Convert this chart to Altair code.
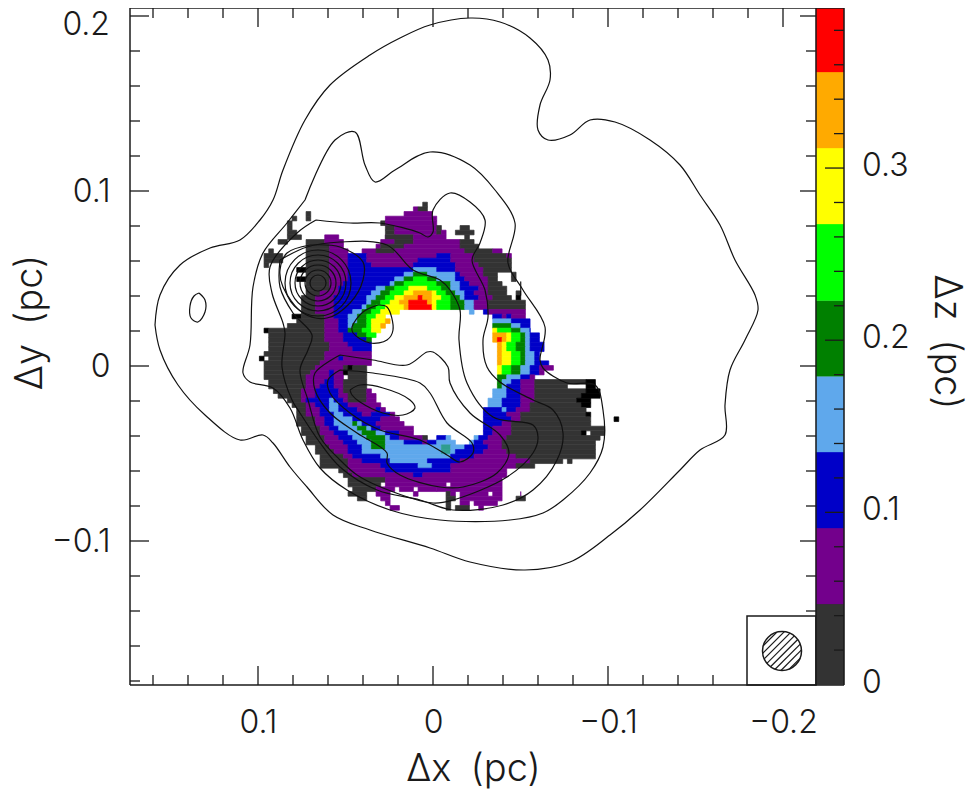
import math
import altair as alt
import pandas as pd

# map cell runs: row index -> (band, first column edge, last column edge)
D,P,B,L,G,N,Y,O,R,K,T = "D","P","B","L","G","N","Y","O","R","K","T"
ROWS = {
35:[(D,-2.4,-1.2)],
34:[(P,-4,-3.2),(D,-3.2,-1)],
33:[(P,-6.4,0.1),(D,-26.9,-25.9)],
32:[(P,-10.5,0.6),(D,-26.9,-25.9),(D,-30,-29)],
31:[(D,-11.4,-10.4),(P,-10.4,0.7),(D,-31,-30)],
30:[(D,-10.3,-8.1),(P,-8.1,0.8),(D,0.8,1.9),(D,5.9,7.9),(D,-31,-30)],
29:[(D,-31,-29),(D,-10.3,-8),(P,-8,0.7),(D,1.1,1.9),(P,1.9,2.9),(D,4.9,9)],
28:[(P,-23.6,-20.6),(D,-31,-28.4),(P,-10.5,-10),(D,-10,-4.5),(P,-4.5,3),(D,7,8)],
27:[(D,-32.8,-31),(D,-27.6,-23.6),(P,-23.6,-19.6),(P,-11.4,-8.1),(D,-8.1,-4.2),(P,-4.2,6),(D,6,9)],
26:[(D,-26.7,-22.6),(P,-22.6,-19.2),(P,-12.5,-11.4),(D,-11.4,-6.3),(P,-6.3,6),(D,6,9.7)],
25:[(D,-34.8,-33.8),(D,-26.7,-22.6),(P,-22.6,-18.5),(P,-15.6,-12),(D,-12,-7.8),(P,-7.8,6.5),(D,6.5,13),(P,13,15)],
24:[(D,-36,-32),(D,-26.7,-22.6),(P,-22.6,-18.5),(B,-18.5,-14.6),(P,-14.6,0.8),(B,0.8,3.6),(P,3.6,8.6),(D,8.6,15.5),(P,15.5,16.3)],
23:[(D,-36,-32),(D,-27,-22.6),(P,-22.6,-18.5),(B,-18.5,-14.6),(P,-14.6,-3.5),(B,-3.5,3.6),(P,3.6,8.6),(D,8.6,17.2)],
22:[(D,-36,-35),(D,-27.6,-22.6),(P,-22.6,-18.5),(B,-18.5,-13),(P,-13,-4.3),(B,-4.3,4.5),(P,4.5,9.5),(D,9.5,17.3)],
21:[(K,-28.9,-27.6),(D,-27.6,-22.6),(P,-22.6,-18.5),(B,-18.5,-4),(L,-4,0.8),(B,0.8,5.2),(P,5.2,10.3),(D,10.3,17.3)],
20:[(D,-27.6,-22.6),(P,-22.6,-18.5),(B,-18.5,-6.5),(L,-6.5,-4),(G,-4,-1.4),(L,-1.4,4.7),(B,4.7,6.1),(P,6.1,10.5),(D,10.5,14),(D,16.5,18)],
19:[(K,-28.9,-27.6),(D,-27.6,-22.6),(P,-22.6,-18),(B,-18,-8.3),(L,-8.3,-6),(G,-6,-4),(N,-4,-1.4),(G,-1.4,0.8),(L,0.8,4.7),(B,4.7,6.9),(P,6.9,11.9),(D,11.9,14.1),(D,16.5,18)],
18:[(D,-26.7,-22.6),(P,-22.6,-19),(B,-19,-9.5),(L,-9.5,-8),(G,-8,-6),(N,-6,0.8),(G,0.8,3.6),(L,3.6,5.8),(B,5.8,7.9),(P,7.9,11.9),(D,11.9,15),(K,18.5,19.3)],
17:[(D,-27.4,-22.6),(P,-22.6,-20),(B,-20,-12),(L,-12,-10),(G,-10,-7.8),(N,-7.8,-5.3),(Y,-5.3,-1),(N,-1,1.8),(G,1.8,4),(L,4,6.1),(B,6.1,9.4),(P,9.4,11.9),(D,11.9,15.5),(K,18.5,19.3)],
16:[(D,-27.4,-24),(P,-24,-20.5),(B,-20.5,-13),(L,-13,-11),(G,-11,-9),(N,-9,-6),(Y,-6,-4.5),(O,-4.5,-0.3),(Y,-0.3,0.8),(N,0.8,2.9),(G,2.9,5),(L,5,6.9),(B,6.9,9),(P,9,12),(D,12,16),(D,17.6,18.5),(K,18.5,19.3)],
15:[(D,-28,-24.7),(P,-24.7,-21),(B,-21,-14),(L,-14,-12.5),(G,-12.5,-10),(N,-10,-7.8),(Y,-7.8,-6.3),(O,-6.3,-3),(R,-3,-2),(O,-2,0),(Y,0,1.5),(N,1.5,3.5),(G,3.5,5.5),(L,5.5,7.3),(B,7.3,9.5),(P,9.5,12.5),(D,12.5,17),(K,17.9,19.3)],
14:[(D,-28.5,-24.7),(P,-24.7,-21.5),(B,-21.5,-14.6),(L,-14.6,-13),(G,-13,-11),(N,-11,-9),(Y,-9,-7.5),(O,-7.5,-5),(R,-5,-0.7),(O,-0.7,-0.3),(Y,-0.3,0.8),(N,0.8,3.5),(G,3.5,6.5),(L,6.5,8.5),(P,8.5,12),(D,12,20.2)],
13:[(D,-28.5,-24.7),(P,-24.7,-21.5),(B,-21.5,-15.5),(L,-15.5,-14),(G,-14,-12),(N,-12,-10),(Y,-10,-6.5),(O,-6.5,-5),(R,-5,-0.3),(Y,-0.3,0.8),(N,0.8,4),(G,4,7),(L,7,9),(P,9,12),(D,12,20.2)],
12:[(D,-28.5,-24.7),(P,-24.7,-21.5),(B,-21.5,-17),(L,-17,-15),(G,-15,-13),(N,-13,-11),(Y,-11,-7.5),(L,8,9),(B,11,12),(P,12,20.2)],
11:[(K,-29.8,-28.6),(D,-28.6,-23.6),(P,-23.6,-21.7),(B,-21.7,-17.8),(L,-17.8,-16),(G,-16,-13.9),(N,-13.9,-12.4),(Y,-12.4,-10.3),(B,13,15.2),(P,15.2,16.1),(B,16.1,17.2),(P,17.2,20.2)],
10:[(D,-28.9,-23.6),(P,-23.6,-20.6),(B,-20.6,-18),(L,-18,-16.5),(G,-16.5,-14.5),(N,-14.5,-13),(Y,-13,-10.3),(O,-10.3,-9.2),(L,13,17.2),(B,17.2,20.3)],
9:[(D,-31.7,-23.6),(P,-23.6,-20.3),(B,-20.3,-18),(L,-18,-17.5),(G,-17.5,-14.5),(N,-14.5,-13),(Y,-13,-11),(O,-11,-10),(G,13,17.2),(L,17.2,18.3),(B,18.3,21.3)],
8:[(K,-36,-35),(D,-35,-23.6),(P,-23.6,-20),(B,-20,-18),(G,-18,-15),(N,-15,-13),(Y,-13,-11.5),(Y,13,14.2),(N,14.2,17.2),(G,17.2,18.3),(L,18.3,20.3),(B,20.3,21.3)],
7:[(D,-35,-23.6),(P,-23.6,-19.5),(B,-19.5,-16),(G,-16,-14.5),(N,-14.5,-12.5),(O,13,16.1),(Y,16.1,17.2),(N,17.2,18.3),(G,18.3,19.4),(L,19.4,21.3),(B,21.3,22.4)],
6:[(D,-35,-23.6),(P,-23.6,-19),(B,-19,-14.5),(G,-14.5,-13),(O,13,14.2),(R,14.2,15.2),(O,15.2,16.1),(Y,16.1,17.2),(N,17.2,18.3),(G,18.3,19.4),(L,19.4,21.3),(B,21.3,22.4)],
5:[(D,-35,-22.6),(P,-22.6,-18),(B,-18,-13.5),(O,14.2,15.2),(Y,15.2,16.1),(N,16.1,18),(G,18,19.4),(L,19.4,21.3),(B,21.3,23.5)],
4:[(D,-35,-22.6),(P,-22.6,-17),(B,-17,-13.5),(O,14.2,15.2),(Y,15.2,16.1),(N,16.1,18),(G,18,19.4),(L,19.4,21.3),(B,21.3,23.5)],
3:[(D,-36,-23.6),(P,-23.6,-13.5),(O,14.2,15.2),(Y,15.2,16.4),(N,16.4,18.4),(G,18.4,19.4),(L,19.4,21.4),(B,21.4,23.3)],
2:[(K,-37,-36),(D,-35,-23.6),(P,-23.6,-20.5),(B,-20.5,-19.5),(P,-19.5,-13.5),(O,14.2,15.2),(Y,15.2,16.4),(N,16.4,18.4),(G,18.4,19.4),(L,19.4,21.4),(B,21.4,23.3)],
1:[(D,-36,-24.6),(P,-24.6,-13.5),(O,14.2,15.2),(Y,15.2,16.4),(N,16.4,18.4),(G,18.4,19.4),(L,19.4,21.4),(B,21.4,24.4)],
0:[(D,-36,-25.5),(P,-25.5,-19.6),(D,-19.6,-18.6),(K,-18.6,-17.6),(D,-17.6,-14.6),(Y,14.2,15.2),(N,15.2,17.3),(G,17.3,18.3),(L,18.3,20.3),(B,20.3,22.4),(P,22.4,25.4)],
-1:[(D,-36,-26.6),(P,-26.6,-22.6),(B,-22.6,-21.7),(P,-21.7,-19.6),(K,-19.6,-18.6),(D,-18.6,-14.6),(Y,14.2,15),(N,15,17.3),(G,17.3,18.3),(L,18.3,20.3),(B,20.3,22.4),(P,22.4,23.5)],
-2:[(D,-36,-26.7),(P,-26.7,-22.6),(B,-22.6,-21.7),(P,-21.7,-19.6),(D,-18.6,-14.6),(G,14.2,16.1),(L,16.1,18.3),(B,18.3,20.4),(P,20.4,22.2)],
-3:[(D,-35,-27.6),(P,-27.6,-23.5),(B,-23.5,-21.5),(P,-21.5,-19.6),(D,-19.6,-14.6),(G,14.2,15.2),(L,15.2,17.3),(B,17.3,19.3),(P,19.3,21.5),(D,21.5,33),(K,33,34.7)],
-4:[(D,-35,-27.6),(P,-27.6,-24.6),(B,-24.6,-21.5),(P,-21.5,-19.6),(D,-19.6,-14.6),(G,14.2,15.2),(L,15.2,16.1),(B,16.1,19.3),(P,19.3,21.5),(D,21.5,28.6),(K,32.7,34.7)],
-5:[(D,-33.9,-28.5),(P,-28.5,-25.6),(B,-25.6,-20.5),(P,-20.5,-19.6),(D,-19.6,-14.6),(P,-14.6,-13.5),(L,13.1,16.1),(B,16.1,19.3),(P,19.3,21.5),(D,21.5,32.7),(K,32.7,35.5)],
-6:[(D,-32.8,-28.6),(P,-28.6,-25.6),(B,-25.6,-20.5),(P,-20.5,-18.6),(D,-18.6,-14.6),(P,-14.6,-12.4),(L,13.1,16.1),(B,16.1,18.3),(P,18.3,21.4),(D,21.4,31.5),(K,31.5,35.5)],
-7:[(D,-31.7,-28.6),(P,-28.6,-26.7),(B,-26.7,-22.6),(L,-22.6,-21.5),(B,-21.5,-19.6),(P,-19.6,-18.5),(D,-18.5,-14.6),(P,-14.6,-12.4),(L,12,15.2),(B,15.2,18.3),(P,18.3,21.4),(D,21.4,30.7),(K,30.7,33.5)],
-8:[(D,-30.6,-27.6),(P,-27.6,-25.6),(B,-25.6,-22.6),(L,-22.6,-20.5),(B,-20.5,-18.5),(P,-18.5,-11.4),(L,12,15.2),(B,15.2,18.3),(P,18.3,20.3),(D,20.3,31.5),(K,31.5,33.6)],
-9:[(D,-29.6,-26.7),(P,-26.7,-24.6),(B,-24.6,-22.6),(L,-22.6,-20.5),(B,-20.5,-16.4),(P,-16.4,-12.4),(B,-12.4,-11.4),(P,-11.4,-10.3),(B,11,15),(L,15,16.1),(B,16.1,18),(P,18,20.3),(D,20.3,32.7)],
-10:[(D,-29.6,-26.7),(P,-26.7,-24.6),(B,-24.6,-21.7),(L,-21.7,-19.6),(B,-19.6,-15.3),(P,-15.3,-13.5),(B,-13.5,-9.2),(P,-9.2,-8),(B,11,16.1),(P,16.1,19.3),(D,19.3,32.7),(K,32.7,33.6)],
-11:[(D,-28.9,-25.6),(P,-25.6,-23.5),(B,-23.5,-21.5),(L,-21.5,-17.4),(B,-17.4,-11.4),(P,-11.4,-7),(B,11.3,17.2),(P,17.2,19.3),(D,19.3,33.6),(K,38.8,39.8)],
-12:[(D,-28.9,-25.6),(P,-25.6,-23.5),(B,-23.5,-21.5),(L,-21.5,-17.4),(G,-17.4,-16.5),(L,-16.5,-15.5),(B,-15.5,-12.4),(P,-12.4,-6),(B,11.3,15.2),(P,15.2,17.2),(D,17.2,33.6)],
-13:[(D,-27.8,-24.6),(P,-24.6,-22.6),(B,-22.6,-20.5),(L,-20.5,-16.5),(G,-16.5,-14.6),(L,-14.6,-13.5),(B,-13.5,-11.4),(P,-11.4,-4.2),(B,11.3,12.8),(P,12.8,17.2),(D,17.2,36.5)],
-14:[(D,-27.8,-24.6),(P,-24.6,-21.5),(B,-21.5,-18.5),(L,-18.5,-15.5),(G,-15.5,-12.4),(L,-12.4,-10.3),(B,-10.3,-7.1),(P,-7.1,-4.2),(B,10.5,13),(P,13,17.2),(D,17.2,31.5),(K,31.5,32.5),(D,33.6,36.6)],
-15:[(D,-26.7,-23.5),(P,-23.5,-20.5),(B,-20.5,-17.4),(L,-17.4,-14.6),(G,-14.6,-10.3),(L,-10.3,-9.2),(B,-9.2,-7.2),(P,-7.2,-2.4),(D,-2.4,-1),(B,0.8,2.9),(L,2.9,4),(L,9,10.2),(B,10.2,12),(P,12,16),(D,16,35.6)],
-16:[(D,-26.7,-23.5),(P,-23.5,-19.6),(B,-19.6,-16.4),(L,-16.4,-13.5),(G,-13.5,-10.3),(L,-10.3,-6.2),(B,-6.2,-2.1),(P,-2.1,-1.2),(B,-1.2,0.8),(L,0.8,4.9),(L,7.9,9),(B,9,11.1),(P,11.1,14.3),(D,14.3,35)],
-17:[(D,-25.6,-22.6),(P,-22.6,-18.5),(B,-18.5,-15.5),(L,-15.5,-13.5),(G,-13.5,-10.3),(L,-10.3,1.9),(T,1.9,3.9),(L,3.9,6.9),(B,6.9,12),(P,12,14.3),(D,14.3,34.7)],
-18:[(D,-25.6,-21.5),(P,-21.5,-18.5),(B,-18.5,-15.5),(L,-15.5,1.9),(T,1.9,3.9),(L,3.9,5),(B,5,11),(P,11,15.5),(D,15.5,34.7)],
-19:[(D,-24.6,-19.6),(P,-19.6,-16.7),(B,-16.7,-11.4),(L,-11.4,4),(B,4,8.6),(P,8.6,17.5),(D,17.5,34.7)],
-20:[(D,-24.6,-18.5),(P,-18.5,-15.6),(B,-15.6,-9.6),(L,-9.6,-1.2),(B,-1.2,5.8),(P,5.8,20.4),(D,20.4,27.4),(D,28.5,29.5)],
-21:[(D,-24.6,-18.5),(P,-18.5,-11.4),(B,-11.4,-3.5),(L,-3.5,-0.6),(B,-0.6,4),(P,4,17.5),(D,17.5,21.5)],
-22:[(D,-20.6,-18.5),(P,-18.5,-10.3),(B,-10.3,4),(P,4,15.4)],
-23:[(D,-19.6,-16.7),(P,-16.7,-4.2),(B,-4.2,-2),(P,-2,15.4)],
-24:[(D,-18.6,-10.3),(P,-10.3,15)],
-25:[(D,-18.6,-11.4),(P,-10.3,2.9),(P,3.9,14.4)],
-26:[(D,-17.6,-12.4),(P,-12.4,-8.1),(P,-7,-4),(P,-3,0.5),(P,0.8,14.4)],
-27:[(D,-18.6,-14.6),(P,-12.4,-9.4),(P,-4.5,-3.5),(D,2.9,4),(P,4,4.9),(P,5.9,11.9),(P,13,15.2),(P,18.3,19.3)],
-28:[(D,-16.4,-14.6),(P,-11.4,-9.4),(D,2.9,4.9),(P,5.9,15),(D,17.4,20.2)],
-29:[(P,-10.3,-9.4),(D,2.9,3.9),(P,5.9,7.9),(P,9,14.2)],
-30:[(P,-9.2,-7.2),(D,2.9,3.9),(D,4.9,7.9),(P,10,11)],
}
BANDS = ["D","P","B","L","G","N","Y","O","R","K","T"]
BAND_COLORS = ["#333333","#73008c","#0000c8","#5fa8ec","#008000","#00ff00","#ffff00","#ffaa00","#ff0000","#000000","#2f9d8f"]
CELL_PC = 1 / 375
CRPIX_X, CRPIX_Y, SAMPLE_PC = 433, 366, 1 / 1750

# contours in map samples
C1 = [(155,325),(160,295),(180,265),(210,248),(240,240),(260,220),(273,200),(283,170),(305,120),(330,85),(370,55),(400,38),(430,25),(470,18),(500,22),(530,38),(548,60),(550,80),(540,105),(538,130),(548,140),(570,135),(590,120),(615,122),(650,140),(680,165),(700,195),(720,225),(735,260),(755,295),(758,310),(745,340),(730,370),(725,405),(725,435),(700,450),(680,470),(640,510),(610,535),(570,562),(525,570),(470,562),(430,548),(370,530),(333,515),(307,487),(290,467),(273,443),(263,435),(240,440),(205,415),(178,385),(160,350)]
C1B = [(199,293),(205,300),(205,312),(198,322),(191,318),(190,306),(194,296)]
C2 = [(305,200),(287,223),(263,253),(253,287),(250,345),(243,373),(250,382),(273,388),(290,408),(303,440),(320,468),(347,490),(390,510),(440,520),(510,520),(543,513),(563,500),(590,473),(603,447),(603,410),(595,385),(567,383),(543,368),(540,360),(545,327),(523,290),(508,263),(515,223),(495,190),(470,165),(430,152),(395,170),(375,182),(365,165),(355,132),(335,140)]
C3 = [(316,220),(350,223),(380,223),(420,233),(428,237),(433,232),(433,210),(450,193),(470,202),(485,220),(480,243),(472,260),(485,290),(488,317),(483,340),(487,367),(500,382),(533,400),(553,410),(563,433),(557,460),(533,490),(503,505),(453,510),(420,500),(377,490),(340,467),(318,440),(300,413),(292,400),(282,367),(285,333),(283,323),(272,293),(270,267),(297,233)]
C4 = [(280,260),(307,247),(340,242),(387,245),(413,270),(440,280),(450,290),(460,310),(459,340),(467,383),(493,417),(533,425),(538,437),(533,453),(507,477),(453,500),(433,503),(383,488),(357,475),(340,460),(320,437),(308,400),(300,370),(308,350),(312,335),(293,313),(280,287)]
C5 = [(340,355),(373,360),(407,365),(427,352),(433,352),(448,367),(450,383),(470,413),(500,435),(509,453),(497,473),(463,487),(440,487),(400,475),(387,463),(387,453),(357,433),(330,413),(315,390),(315,373)]
C6 = [(340,370),(373,373),(420,383),(430,393),(447,423),(472,443),(473,453),(460,462),(447,455),(420,440),(380,430),(350,413),(330,393),(328,380)]
C7 = [(350,390),(360,385),(383,388),(410,400),(415,408),(403,415),(383,413),(360,402),(352,395)]
C8 = [(378,305),(387,307),(393,330),(387,340),(370,343),(353,333),(352,327),(363,312)]
C9 = [(310,245),(340,247),(363,262),(363,280),(350,303),(327,318),(303,313),(283,287),(280,270),(287,253)]
CONTOURS = [C1, C1B, C2, C3, C4, C5, C6, C7, C8, C9]
RING_CENTRE = (318, 283)
RING_RADII = [8, 13, 18, 23, 28, 33]

CBAR_EDGES = [0, 0.0468, 0.0909, 0.135, 0.179, 0.223, 0.2675, 0.3116, 0.3558, 0.393]
CBAR_BANDS = ["D","P","B","L","G","N","Y","O","R"]
X_MAJOR = [0.1, 0, -0.1, -0.2]
X_MINOR = [0.16,0.14,0.12,0.08,0.06,0.04,0.02,-0.02,-0.04,-0.06,-0.08,-0.12,-0.14,-0.16,-0.18]
Y_MAJOR = [0.2, 0.1, 0, -0.1]
Y_MINOR = [0.18,0.16,0.14,0.12,0.08,0.06,0.04,0.02,-0.02,-0.04,-0.06,-0.08,-0.12,-0.14,-0.16,-0.18]
Z_MAJOR = [0, 0.1, 0.2, 0.3]
Z_MINOR = [0.02,0.04,0.06,0.08,0.12,0.14,0.16,0.18,0.22,0.24,0.26,0.28,0.32,0.34,0.36,0.38]

FONT = "Inter"; FW = 300; FS = 32; TS = 38; INK = "#1a1a1a"
W, H = 714, 677
SX = alt.Scale(domain=[(CRPIX_X-130)*SAMPLE_PC, (CRPIX_X-844)*SAMPLE_PC], nice=False, zero=False)
SY = alt.Scale(domain=[(CRPIX_Y-685)*SAMPLE_PC, (CRPIX_Y-8)*SAMPLE_PC], nice=False, zero=False)
LABEL_EXPR = "datum.value==0?'0':replace(format(datum.value,'.1f'),'-','−')"
AXIS_X = alt.Axis(values=X_MAJOR, domain=False, ticks=False, grid=False, tickSize=0, labelPadding=22,
                  labelFont=FONT, labelFontWeight=FW, labelFontSize=FS, labelColor=INK, labelExpr=LABEL_EXPR,
                  titleFont=FONT, titleFontWeight=FW, titleFontSize=TS, titleColor=INK,
                  titleX=343, titleY=84, titleAlign="center", titleBaseline="middle")
AXIS_Y = alt.Axis(values=[0.1, 0, -0.1], domain=False, ticks=False, grid=False, tickSize=0, labelPadding=20,
                  labelFont=FONT, labelFontWeight=FW, labelFontSize=FS, labelColor=INK, labelExpr=LABEL_EXPR,
                  titleFont=FONT, titleFontWeight=FW, titleFontSize=TS, titleColor=INK,
                  titleX=-100, titleY=314, titleAngle=-90, titleAlign="center", titleBaseline="middle")
def X(f): return alt.X(f, type="quantitative", scale=SX, axis=AXIS_X, title="Δx\u2002(pc)")
def Y(f): return alt.Y(f, type="quantitative", scale=SY, axis=AXIS_Y, title="Δy\u2002(pc)")
def zy(z): return (CRPIX_Y - (684.5 - 1721.5 * z)) * SAMPLE_PC
def sx(v): return (CRPIX_X - v) * SAMPLE_PC
def sy(v): return (CRPIX_Y - v) * SAMPLE_PC
def snap(c): return round(c - 0.8) + 0.8

cells = []
for g, runs in ROWS.items():
    for band, a, b in runs:
        cells.append({"x0": -snap(a)*CELL_PC, "x1": -snap(b)*CELL_PC,
                      "y0": (g+0.1)*CELL_PC, "y1": (g-0.9)*CELL_PC, "band": band})
band_scale = alt.Scale(domain=BANDS, range=BAND_COLORS)
map_layer = alt.Chart(pd.DataFrame(cells)).mark_rect(strokeWidth=0.7).encode(
    x=X("x0"), x2="x1", y=Y("y0"), y2="y1",
    fill=alt.Fill("band:N", scale=band_scale, legend=None),
    stroke=alt.Stroke("band:N", scale=band_scale, legend=None))

pts = []
for i, c in enumerate(CONTOURS):
    for j, (a, b) in enumerate(list(c) + [c[0]]):
        pts.append({"x": sx(a), "y": sy(b), "k": i, "o": j})
contour_layer = alt.Chart(pd.DataFrame(pts)).mark_line(
    interpolate="catmull-rom", color="#111111", strokeWidth=1.2).encode(
    x=X("x"), y=Y("y"), detail="k:N", order="o:Q")
rings = alt.Chart(pd.DataFrame({"r": RING_RADII, "x": sx(RING_CENTRE[0]), "y": sy(RING_CENTRE[1])})).transform_calculate(
    s="pow(2*datum.r,2)").mark_point(shape="circle", filled=False, color="#111111", strokeWidth=1.2, opacity=1).encode(
    x=X("x"), y=Y("y"), size=alt.Size("s:Q", scale=None, legend=None))

one = pd.DataFrame({"a": [0]})
def vline(px, y0=0, y1=H, sw=1.5):
    return alt.Chart(one).mark_rule(color=INK, strokeWidth=sw).encode(x=alt.value(px), y=alt.value(y0), y2=alt.value(y1))
def hline(py, x0=0, x1=W, sw=1.5):
    return alt.Chart(one).mark_rule(color=INK, strokeWidth=sw).encode(y=alt.value(py), x=alt.value(x0), x2=alt.value(x1))
def xt(vals, py, ln):
    return alt.Chart(pd.DataFrame({"v": vals})).mark_rule(color=INK, strokeWidth=1.3).encode(x=X("v"), y=alt.value(py), y2=alt.value(py+ln))
def yt(vals, px, ln):
    return alt.Chart(pd.DataFrame({"v": vals})).mark_rule(color=INK, strokeWidth=1.3).encode(y=Y("v"), x=alt.value(px), x2=alt.value(px+ln))

ticks = [
    xt(X_MAJOR, H, -19), xt(X_MINOR, H, -10), xt(X_MAJOR, 0, 19), xt(X_MINOR, 0, 10),
    yt(Y_MAJOR, 0, 19), yt(Y_MINOR, 0, 10), yt(Y_MAJOR, 686, -16), yt(Y_MINOR, 686, -10),
]

# colour bar drawn against the same vertical scale
cb = pd.DataFrame({"x0": sx(816), "x1": sx(844), "y0": [zy(v) for v in CBAR_EDGES[:-1]],
                   "y1": [zy(v) for v in CBAR_EDGES[1:]], "band": CBAR_BANDS})
cbar = alt.Chart(cb).mark_rect(strokeWidth=0.3).encode(
    x=X("x0"), x2="x1", y=Y("y0"), y2="y1",
    fill=alt.Fill("band:N", scale=band_scale, legend=None),
    stroke=alt.Stroke("band:N", scale=band_scale, legend=None))
cbar_ticks = [yt([zy(v) for v in Z_MAJOR[1:]], 714, -19), yt([zy(v) for v in Z_MINOR], 714, -10)]
cbar_labels = alt.Chart(pd.DataFrame({"t": ["0", "0.1", "0.2", "0.3"], "y": [zy(v) for v in Z_MAJOR]})).mark_text(
    font=FONT, fontWeight=FW, fontSize=FS, color=INK, align="left", baseline="middle", dy=-2).encode(
    y=Y("y"), x=alt.value(732), text="t:N")
cbar_title = alt.Chart(pd.DataFrame({"t": ["Δz\u2002(pc)"]})).mark_text(
    font=FONT, fontWeight=FW, fontSize=TS, color=INK, angle=90, align="center", baseline="middle").encode(
    x=alt.value(816), y=alt.value(334), text="t:N")

# beam inset
inset = alt.Chart(pd.DataFrame({"x0": [sx(747)], "x1": [sx(816)], "y0": [sy(616)], "y1": [sy(685)]})).mark_rect(
    fill="white", stroke=INK, strokeWidth=1.5).encode(x=X("x0"), x2="x1", y=Y("y0"), y2="y1")
BEAM = (782, 651); BEAM_R = 19.5; HATCH = [-17, -12, -7, -2, 3, 8, 13, 18]
hatch = []
for d in HATCH:
    h = math.sqrt(max(BEAM_R**2 - d**2, 0)); s = math.sqrt(0.5)
    cx = BEAM[0] + d*s; cy = BEAM[1] + d*s
    hatch.append({"x": sx(cx - h*s), "x2": sx(cx + h*s), "y": sy(cy + h*s), "y2": sy(cy - h*s)})
hatch_layer = alt.Chart(pd.DataFrame(hatch)).mark_rule(color=INK, strokeWidth=1.2).encode(
    x=X("x"), x2="x2", y=Y("y"), y2="y2")
beam = alt.Chart(pd.DataFrame({"x": [sx(BEAM[0])], "y": [sy(BEAM[1])]})).mark_point(
    shape="circle", filled=False, color=INK, strokeWidth=1.5, opacity=1, size=(2*BEAM_R)**2).encode(x=X("x"), y=Y("y"))

top_label = alt.Chart(pd.DataFrame({"t": ["0.2"], "y": [0.2]})).mark_text(
    font=FONT, fontWeight=FW, fontSize=FS, color=INK, align="right", baseline="middle", dy=9).encode(
    y=Y("y"), x=alt.value(-20), text="t:N")

frame = [vline(0), vline(686), vline(714), hline(0), hline(H)]

chart = alt.layer(map_layer, contour_layer, rings, *ticks, inset, hatch_layer, beam, cbar, *cbar_ticks,
                  *frame, cbar_labels, cbar_title, top_label).properties(
    width=W, height=H,
    padding={"left": 122, "top": 0, "right": 127, "bottom": 108},
    autosize=alt.AutoSizeParams(type="none"),
).configure_view(stroke=None)

chart.save("out.html", embed_options={"renderer": "svg", "actions": False})
